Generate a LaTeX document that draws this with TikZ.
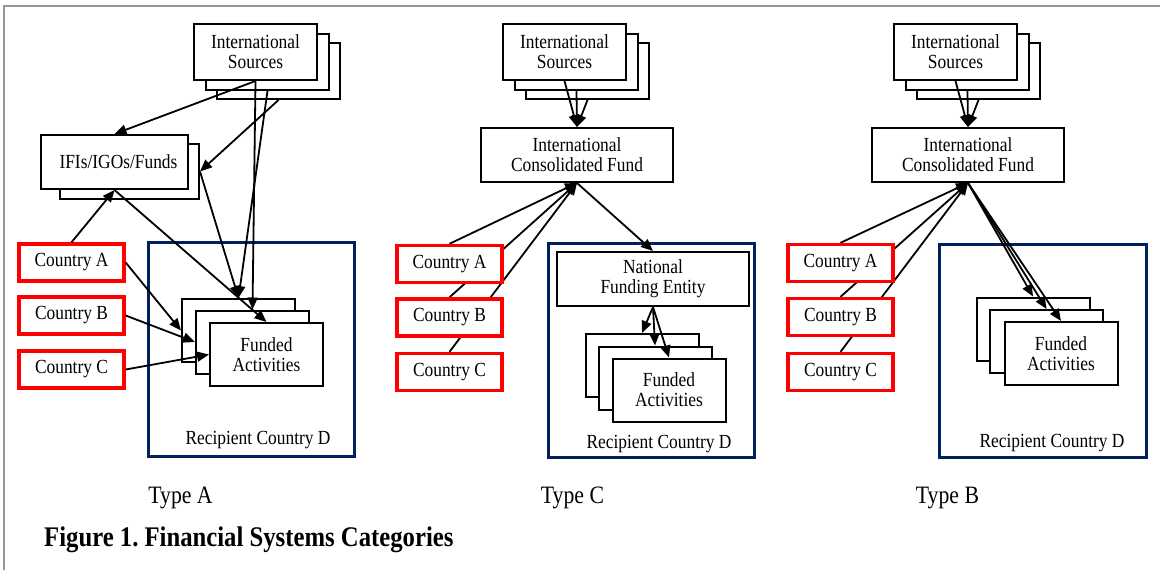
\documentclass[tikz,border=0pt]{standalone}
\usepackage{fontspec}
\setmainfont{Liberation Serif}[FakeStretch=0.87]
\usetikzlibrary{arrows.meta,calc}
\definecolor{navy}{RGB}{0,32,96}
\definecolor{framegray}{RGB}{150,150,150}
\pgfdeclarelayer{background}
\pgfsetlayers{background,main}
\frenchspacing
\tikzset{
  box/.style={draw=black, line width=2pt, fill=white, align=center, inner sep=0pt,
    font=\fontsize{20}{20}\selectfont},
  srcbox/.style={box, minimum width=123pt, minimum height=56pt},
  fabox/.style={box, minimum width=113pt, minimum height=63pt},
  fundbox/.style={box, minimum width=192pt, minimum height=54pt},
  ctry/.style={draw=red, line width=3.4pt, fill=white, inner sep=0pt,
    minimum width=105pt, minimum height=37pt, font=\fontsize{20}{20}\selectfont},
  recip/.style={draw=navy, line width=3.2pt, inner sep=0pt, minimum width=206pt, minimum height=214pt},
  arr/.style={line width=1.8pt, -{Triangle[length=12pt,width=10pt]}},
  lbl/.style={anchor=base, inner sep=0pt, font=\fontsize{20}{20}\selectfont},
  typ/.style={anchor=base, inner sep=0pt, font=\fontsize{25}{28}\selectfont},
}
\begin{document}
\begin{tikzpicture}[x=1pt,y=-1pt]
\useasboundingbox (0,0) rectangle (1160,570);
\draw[framegray, line width=1.5pt] (4,570) -- (4,6) -- (1160,6);

% ---------------- Type A ----------------
\node[recip] (recA) at (251.5,349.5) {};
\node[lbl] (recAl) at (258,444) {Recipient Country D};
\node[srcbox] (isA3) at (278.5,71) {};
\node[srcbox] (isA2) at (267.5,62) {};
\node[srcbox] (isA1) at (255.5,52) {International\\Sources};
\node[box, minimum width=139pt, minimum height=55pt] (ifiB) at (129.5,171.5) {};
\node[box, minimum width=147pt, minimum height=54pt] (ifi) at (114.5,162) {\hspace*{8pt}IFIs/IGOs/Funds};
\node[fabox] (faA3) at (238.5,330.5) {};
\node[fabox] (faA2) at (252.5,342) {};
\node[fabox] (faA1) at (266.5,354.5) {Funded\\Activities};
\node[ctry] (cAa) at (71.5,262.5) {Country A};
\node[ctry] (cAb) at (71.5,315.5) {Country B};
\node[ctry] (cAc) at (71.5,369.5) {Country C};

\draw[arr] (isA1.south) -- (ifi.north);
\draw[arr] (isA3.south) -- (ifiB.east);
\draw[arr] (isA1.south) -- (faA2.north);
\draw[arr] (isA2.south) -- (faA3.north);
\draw[arr] (ifiB.east) -- (faA3.north);
\draw[arr] (ifi.south) -- (faA1.north);
\draw[arr] (cAa.north) -- (ifi.south);
\draw[arr] (cAa.east) -- (faA3.west);
\draw[arr] (cAb.east) -- (faA2.west);
\draw[arr] (cAc.east) -- (faA1.west);

% ---------------- Type C ----------------
\node[recip] (recC) at (651.5,350.5) {};
\node[lbl] (recCl) at (659,448) {Recipient Country D};
\node[srcbox] (isC3) at (587.5,71) {};
\node[srcbox] (isC2) at (576.5,62) {};
\node[srcbox] (isC1) at (564.5,52) {International\\Sources};
\node[fundbox] (icfC) at (577,155) {International\\Consolidated Fund};
\node[fundbox] (nfe) at (653,279) {National\\Funding Entity};
\node[fabox] (faC3) at (642,365.5) {};
\node[fabox] (faC2) at (655,378) {};
\node[fabox] (faC1) at (669,390) {Funded\\Activities};
\node[ctry] (cCa) at (449.5,264) {Country A};
\node[ctry] (cCb) at (449.5,317.5) {Country B};
\node[ctry] (cCc) at (449.5,372) {Country C};

\draw[arr] (isC1.south) -- (icfC.north);
\draw[arr] (isC2.south) -- (icfC.north);
\draw[arr] (isC3.south) -- (icfC.north);
\begin{pgfonlayer}{background}
\draw[arr] (cCa.north) -- (icfC.south);
\draw[arr] (cCb.north) -- (icfC.south);
\draw[arr] (cCc.north) -- (icfC.south);
\end{pgfonlayer}
\draw[arr] (icfC.south) -- (nfe.north);
\draw[arr] (nfe.south) -- (faC3.north);
\draw[arr] (nfe.south) -- (faC2.north);
\draw[arr] (nfe.south) -- (faC1.north);

% ---------------- Type B ----------------
\node[recip, minimum width=207pt, minimum height=213pt] (recB) at (1043,351) {};
\node[lbl] (recBl) at (1052,447) {Recipient Country D};
\node[srcbox] (isB3) at (978.5,71) {};
\node[srcbox] (isB2) at (967.5,62) {};
\node[srcbox] (isB1) at (955.5,52) {International\\Sources};
\node[fundbox] (icfB) at (968,155) {International\\Consolidated Fund};
\node[fabox] (faB3) at (1033,329) {};
\node[fabox] (faB2) at (1046.5,341.5) {};
\node[fabox] (faB1) at (1061,353.5) {Funded\\Activities};
\node[ctry] (cBa) at (840.5,263) {Country A};
\node[ctry] (cBb) at (840.5,317) {Country B};
\node[ctry] (cBc) at (840.5,372) {Country C};

\draw[arr] (isB1.south) -- (icfB.north);
\draw[arr] (isB2.south) -- (icfB.north);
\draw[arr] (isB3.south) -- (icfB.north);
\begin{pgfonlayer}{background}
\draw[arr] (cBa.north) -- (icfB.south);
\draw[arr] (cBb.north) -- (icfB.south);
\draw[arr] (cBc.north) -- (icfB.south);
\end{pgfonlayer}
\draw[arr] (icfB.south) -- (faB3.north);
\draw[arr] (icfB.south) -- (faB2.north);
\draw[arr] (icfB.south) -- (faB1.north);

% ---------------- labels ----------------
\node[typ] (tA) at (180.5,503) {Type A};
\node[typ] (tC) at (572.5,503) {Type C};
\node[typ] (tB) at (947.5,503) {Type B};
\node[anchor=base west, inner sep=0pt, font=\bfseries\fontsize{28.4}{30}\selectfont] (cap) at (44,546) {Figure 1. Financial Systems Categories};
\end{tikzpicture}
\end{document}
